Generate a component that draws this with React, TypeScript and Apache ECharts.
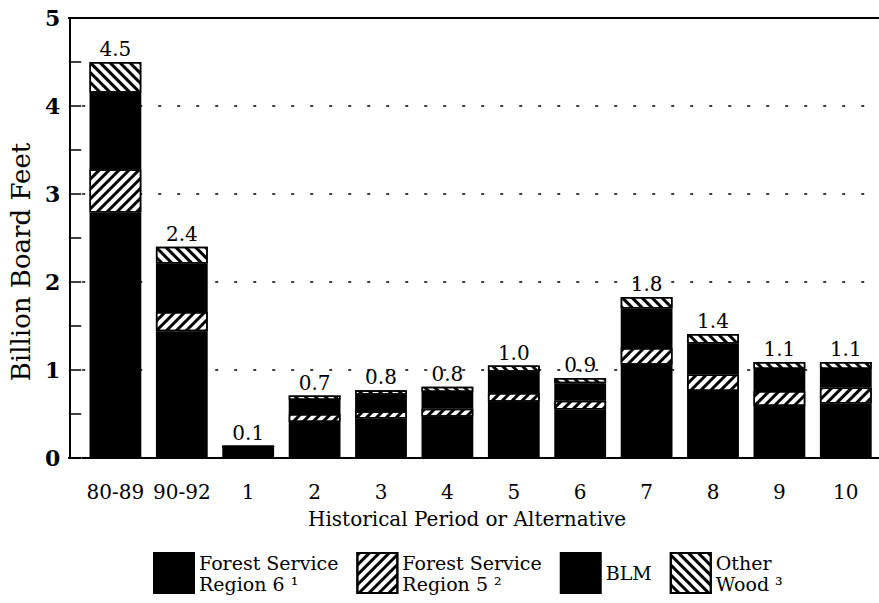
import React, { useEffect, useRef } from "react";
import * as echarts from "echarts";

const categories = ["80-89", "90-92", "1", "2", "3", "4", "5", "6", "7", "8", "9", "10"];
const region6 = [2.79, 1.44, 0.13, 0.41, 0.45, 0.47, 0.64, 0.55, 1.06, 0.76, 0.59, 0.62];
const region5 = [0.49, 0.22, 0, 0.09, 0.08, 0.09, 0.1, 0.1, 0.19, 0.19, 0.17, 0.18];
const blm = [0.87, 0.55, 0, 0.16, 0.19, 0.19, 0.24, 0.2, 0.45, 0.35, 0.25, 0.21];
const otherWood = [0.35, 0.19, 0, 0.05, 0.05, 0.06, 0.07, 0.06, 0.13, 0.11, 0.08, 0.08];
const totalLabels = ["4.5", "2.4", "0.1", "0.7", "0.8", "0.8", "1.0", "0.9", "1.8", "1.4", "1.1", "1.1"];
const seriesNames = ["Forest Service Region 6", "Forest Service Region 5", "BLM", "Other Wood"];
const legendTexts = ["Forest Service\nRegion 6 ¹", "Forest Service\nRegion 5 ²", "BLM", "Other\nWood ³"];

const FONT = "DejaVu Serif";

export default function App() {
  const ref = useRef<HTMLDivElement>(null);
  useEffect(() => {
    if (!ref.current) return;
    const chart = echarts.init(ref.current, null, { renderer: "svg" });
    const black = { color: "#000", borderColor: "#000", borderWidth: 1.5 };
    const hatch = (rot: number) => ({
      color: "#fff",
      borderColor: "#000",
      borderWidth: 1.5,
      decal: {
        symbol: "rect",
        symbolSize: 1,
        color: "#000",
        dashArrayX: [1, 0],
        dashArrayY: [3, 4],
        rotation: rot,
      },
    });
    const common = {
      type: "bar" as const,
      stack: "total",
      barCategoryGap: "22%",
      emphasis: { disabled: true },
    };
    chart.setOption({
      animation: false,
      backgroundColor: "#fff",
      grid: { left: 80, right: 0, top: 18, bottom: 145, containLabel: false },
      legend: {
        data: seriesNames,
        left: 153,
        top: 552,
        padding: 0,
        itemWidth: 40,
        itemHeight: 40,
        itemGap: 18,
        icon: "rect",
        selectedMode: false,
        formatter: (name: string) => legendTexts[seriesNames.indexOf(name)],
        textStyle: { fontFamily: FONT, fontSize: 19, lineHeight: 21, color: "#000" },
      },
      xAxis: {
        type: "category",
        data: categories,
        name: "Historical Period or Alternative",
        nameLocation: "middle",
        nameGap: 51,
        nameTextStyle: { fontFamily: FONT, fontSize: 20, color: "#000", padding: [0, 27, 0, 0] },
        axisLine: { lineStyle: { color: "#000", width: 2 } },
        axisTick: { alignWithLabel: true, interval: 0, length: 8, lineStyle: { color: "#000", width: 1.5 } },
        axisLabel: { fontFamily: FONT, fontSize: 20, color: "#000", margin: 24, interval: 0 },
      },
      yAxis: {
        type: "value",
        min: 0,
        max: 5,
        interval: 1,
        offset: 12,
        name: "Billion Board Feet",
        nameLocation: "middle",
        nameRotate: 90,
        nameGap: 28,
        nameTextStyle: { fontFamily: FONT, fontSize: 26, color: "#000", padding: [0, 48, 0, 0] },
        axisLine: { show: true, lineStyle: { color: "#000", width: 2 } },
        axisTick: { show: true, inside: true, length: 11, lineStyle: { color: "#000", width: 1.5 } },
        minorTick: { show: true, splitNumber: 2, length: 11, lineStyle: { color: "#000", width: 1.5 } },
        axisLabel: { fontFamily: FONT, fontSize: 22, fontWeight: "bold", color: "#000", margin: 10 },
        splitLine: { show: true, lineStyle: { color: "#000", width: 1.5, type: [3, 16] } },
      },
      graphic: [
        { type: "line", shape: { x1: 68, y1: 18, x2: 879, y2: 18 }, style: { stroke: "#000", lineWidth: 2 }, z: 100 },
        { type: "line", shape: { x1: 68, y1: 458, x2: 81, y2: 458 }, style: { stroke: "#000", lineWidth: 2 }, z: 100 },
      ],
      series: [
        { ...common, name: seriesNames[0], data: region6, itemStyle: black },
        { ...common, name: seriesNames[1], data: region5, itemStyle: hatch(-Math.PI / 4) },
        { ...common, name: seriesNames[2], data: blm, itemStyle: black },
        {
          ...common,
          name: seriesNames[3],
          data: otherWood,
          itemStyle: hatch(Math.PI / 4),
          label: {
            show: true,
            position: "top",
            distance: 3,
            fontFamily: FONT,
            fontSize: 20,
            color: "#000",
            formatter: (p: any) => totalLabels[p.dataIndex],
          },
        },
      ],
    });
    return () => chart.dispose();
  }, []);
  return <div ref={ref} style={{ position: "fixed", left: 0, top: 0, width: 879, height: 603 }} />;
}
